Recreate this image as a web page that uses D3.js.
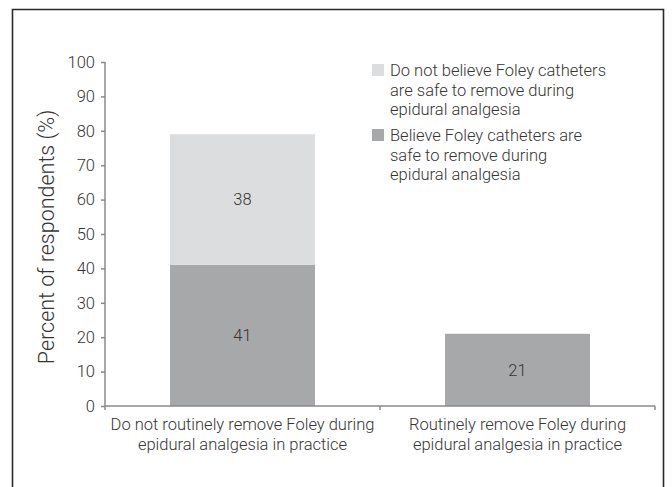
<!DOCTYPE html>
<head>
  <meta charset="utf-8">
  <title>Foley removal</title>
  <style>
    body { margin: 0; background: #fff; }
    svg { display: block; }
    text { font-family: Roboto, "Liberation Sans", Arial, sans-serif; font-weight: 300; fill: #353535; }
  </style>
</head>

<body>
  <div id="chart"></div>

  <script src="https://cdn.jsdelivr.net/npm/d3@7"></script>
  <script type="text/javascript">

    // data
    var categories = [
      ["Do not routinely remove Foley during", "epidural analgesia in practice"],
      ["Routinely remove Foley during", "epidural analgesia in practice"]
    ];
    var believeSafe = [41, 21];
    var notBelieveSafe = [38, 0];
    var seriesNames = [
      ["Do not believe Foley catheters", "are safe to remove during", "epidural analgesia"],
      ["Believe Foley catheters are", "safe to remove during", "epidural analgesia"]
    ];
    var yTicks = [0, 10, 20, 30, 40, 50, 60, 70, 80, 90, 100];
    var yTitle = "Percent of respondents (%)";

    var colLight = "#dcdddf", colDark = "#a7a8aa", axisCol = "#8a8a8c";
    var fs = "16.5px";

    var W = 672, H = 487;
    var svg = d3.select("#chart").append("svg")
      .attr("width", W)
      .attr("height", H);

    // frame (bottom runs off the page)
    svg.append("path")
      .attr("d", "M12.5," + H + "V9.5H663.5V" + H)
      .attr("fill", "none")
      .attr("stroke", "#2a2a2a")
      .attr("stroke-width", 1.6);

    var x0 = 105, x1 = 655, yTop = 62, yBot = 406;
    var idx = categories.map((d, i) => i);

    var x = d3.scaleBand().domain(idx).range([x0, x1])
      .paddingInner(0.4727).paddingOuter(0.2364);
    var xb = d3.scaleBand().domain(idx).range([x0, x1]);
    var y = d3.scaleLinear().domain([0, 100]).range([yBot, yTop]);

    // bars: dark (bottom) then light (stacked)
    var stacks = idx.map(i => ({ i: i, lo: believeSafe[i], hi: notBelieveSafe[i] }));

    svg.selectAll(".dark").data(stacks).enter().append("rect")
      .attr("x", d => x(d.i))
      .attr("width", x.bandwidth())
      .attr("y", d => y(d.lo))
      .attr("height", d => y(0) - y(d.lo))
      .attr("fill", colDark);

    svg.selectAll(".light").data(stacks.filter(d => d.hi > 0)).enter().append("rect")
      .attr("x", d => x(d.i))
      .attr("width", x.bandwidth())
      .attr("y", d => y(d.lo + d.hi))
      .attr("height", d => y(d.lo) - y(d.lo + d.hi))
      .attr("fill", colLight);

    // value labels
    svg.selectAll(".vlo").data(stacks).enter().append("text")
      .attr("x", d => x(d.i) + x.bandwidth() / 2)
      .attr("y", d => y(d.lo / 2))
      .attr("dy", "0.35em")
      .attr("text-anchor", "middle")
      .style("font-size", fs)
      .text(d => d.lo);

    svg.selectAll(".vhi").data(stacks.filter(d => d.hi > 0)).enter().append("text")
      .attr("x", d => x(d.i) + x.bandwidth() / 2)
      .attr("y", d => y(d.lo + d.hi / 2))
      .attr("dy", "0.35em")
      .attr("text-anchor", "middle")
      .style("font-size", fs)
      .text(d => d.hi);

    // y axis
    var yAxis = svg.append("g")
      .attr("transform", "translate(" + x0 + ",0)")
      .call(d3.axisLeft(y).tickValues(yTicks).tickSize(4).tickPadding(6));
    yAxis.selectAll("path, line").attr("stroke", axisCol).attr("stroke-width", 1.5);
    yAxis.select(".domain").attr("d", "M0," + yTop + "V" + yBot);
    yAxis.selectAll("text").style("font-size", fs).style("fill", "#353535")
      .style("font-family", "Roboto, 'Liberation Sans', Arial, sans-serif")
      .style("font-weight", 300);

    // x axis
    svg.append("line")
      .attr("x1", x0).attr("x2", x1)
      .attr("y1", yBot).attr("y2", yBot)
      .attr("stroke", axisCol).attr("stroke-width", 1.5);
    svg.selectAll(".xtick").data(idx.concat([idx.length])).enter().append("line")
      .attr("x1", d => x0 + d * xb.step()).attr("x2", d => x0 + d * xb.step())
      .attr("y1", yBot).attr("y2", yBot + 4)
      .attr("stroke", axisCol).attr("stroke-width", 1.5);

    var xl = svg.selectAll(".xlab").data(idx).enter().append("text")
      .attr("x", d => x(d) + x.bandwidth() / 2)
      .attr("y", 430)
      .attr("text-anchor", "middle")
      .style("font-size", fs);
    xl.selectAll("tspan").data(d => categories[d]).enter().append("tspan")
      .attr("x", function () { return d3.select(this.parentNode).attr("x"); })
      .attr("dy", (d, j) => j === 0 ? 0 : 19.5)
      .text(d => d);

    // y title
    svg.append("text")
      .attr("transform", "translate(54," + ((yTop + yBot) / 2 + 3) + ") rotate(-90)")
      .attr("text-anchor", "middle")
      .style("font-size", "21.5px")
      .text(yTitle);

    // legend
    var legCols = [colLight, colDark];
    var lg = svg.selectAll(".leg").data(seriesNames).enter().append("g")
      .attr("transform", (d, i) => "translate(372," + (64 + i * 65) + ")");
    lg.append("rect")
      .attr("width", 12).attr("height", 12)
      .attr("fill", (d, i) => legCols[i]);
    var lt = lg.append("text")
      .attr("x", 18).attr("y", 12)
      .style("font-size", fs);
    lt.selectAll("tspan").data(d => d).enter().append("tspan")
      .attr("x", 18)
      .attr("dy", (d, j) => j === 0 ? 0 : 19.5)
      .text(d => d);

  </script>

</body>
